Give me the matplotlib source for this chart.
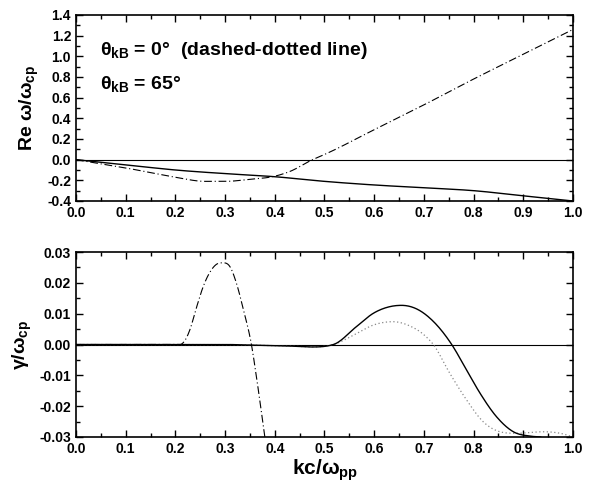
import numpy as np
import matplotlib
matplotlib.use("Agg")
import matplotlib.pyplot as plt
from matplotlib.ticker import MultipleLocator, FormatStrFormatter

plt.rcParams['font.family'] = ['Liberation Sans', 'DejaVu Sans']
plt.rcParams['font.weight'] = 'bold'
plt.rcParams['mathtext.fontset'] = 'custom'
plt.rcParams['mathtext.rm'] = 'Liberation Sans:bold'
plt.rcParams['mathtext.it'] = 'Liberation Sans:bold'
plt.rcParams['mathtext.bf'] = 'Liberation Sans:bold'
plt.rcParams['mathtext.sf'] = 'Liberation Sans:bold'

# ---- Top panel: Re omega / omega_cp ----
re65_k = [0.0, 0.1, 0.2, 0.3, 0.4, 0.5, 0.6, 0.7, 0.8, 0.9, 1.0]
re65_w = [0.0, -0.05, -0.10, -0.135, -0.165, -0.21, -0.245, -0.272, -0.30, -0.35, -0.40]

re0_k = [0.0, 0.05, 0.1, 0.15, 0.2, 0.26, 0.3, 0.35, 0.4, 0.43, 0.476, 0.5, 0.6, 0.7, 0.8, 0.9, 1.0]
re0_w = [0.0, -0.04, -0.08, -0.125, -0.17, -0.21, -0.21, -0.19, -0.16, -0.115, 0.0, 0.05, 0.29, 0.53, 0.78, 1.02, 1.26]

# ---- Bottom panel: gamma / omega_cp ----
g0_k = [0.0, 0.209, 0.22, 0.229, 0.243, 0.256, 0.270, 0.286, 0.296, 0.310, 0.323, 0.337, 0.353, 0.364, 0.380]
g0_g = [0.0, 0.0, 0.0015, 0.0047, 0.0123, 0.0188, 0.0236, 0.0263, 0.0265, 0.0252, 0.0198, 0.0112, 0.0, -0.0115, -0.030]

g65_k = [0.0, 0.3, 0.35, 0.43, 0.471, 0.518, 0.565, 0.598, 0.632, 0.655, 0.686, 0.719,
         0.756, 0.786, 0.813, 0.846, 0.880, 0.913, 0.935]
g65_g = [0.0, 0.0, -0.0002, -0.0005, -0.0008, 0.0, 0.0059, 0.0101, 0.0123, 0.0127, 0.0115, 0.0075,
         0.0, -0.0083, -0.0158, -0.0234, -0.0283, -0.0297, -0.0300]

g65d_k = [0.0, 0.3, 0.35, 0.43, 0.471, 0.518, 0.565, 0.598, 0.638, 0.672, 0.699, 0.719,
          0.752, 0.786, 0.819, 0.853, 0.886, 0.94, 0.98, 1.0]
g65d_g = [0.0, 0.0, -0.0002, -0.0005, -0.0008, 0.0, 0.0036, 0.0063, 0.0074, 0.006, 0.0033, 0.0,
          -0.0093, -0.018, -0.025, -0.0283, -0.0288, -0.0283, -0.029, -0.030]

xticks = [0.0, 0.1, 0.2, 0.3, 0.4, 0.5, 0.6, 0.7, 0.8, 0.9, 1.0]


def smooth(xs, ys, n=500):
    xs = np.asarray(xs, float)
    ys = np.asarray(ys, float)
    xn = np.linspace(xs[0], xs[-1], n)
    h = np.diff(xs)
    d = np.diff(ys) / h
    m = np.zeros_like(ys)
    m[0], m[-1] = d[0], d[-1]
    for i in range(1, len(xs) - 1):
        if d[i - 1] * d[i] <= 0:
            m[i] = 0.0
        else:
            m[i] = (h[i] * d[i - 1] + h[i - 1] * d[i]) / (h[i - 1] + h[i])
            lim = 3 * min(abs(d[i - 1]), abs(d[i]))
            m[i] = np.sign(m[i]) * min(abs(m[i]), lim)
    idx = np.clip(np.searchsorted(xs, xn) - 1, 0, len(xs) - 2)
    t = (xn - xs[idx]) / h[idx]
    h00 = 2 * t**3 - 3 * t**2 + 1
    h10 = t**3 - 2 * t**2 + t
    h01 = -2 * t**3 + 3 * t**2
    h11 = t**3 - t**2
    yn = h00 * ys[idx] + h10 * h[idx] * m[idx] + h01 * ys[idx + 1] + h11 * h[idx] * m[idx + 1]
    return xn, yn


fig = plt.figure(figsize=(5.95, 4.93), dpi=100)
ax1 = fig.add_axes([0.1277, 0.5923, 0.8353, 0.3773])
ax2 = fig.add_axes([0.1277, 0.1136, 0.8353, 0.3752])

dashdot = (0, (7, 2.5, 1, 2.5))

ax1.axhline(0, color='black', lw=0.8)
x, y = smooth(re65_k, re65_w)
ax1.plot(x, y, color='black', lw=1.0)
x, y = smooth(re0_k, re0_w)
ax1.plot(x, y, color='black', lw=0.8, linestyle=dashdot)
ax1.set_xlim(0, 1)
ax1.set_ylim(-0.4, 1.4)
ax1.yaxis.set_major_locator(MultipleLocator(0.2))
ax1.yaxis.set_minor_locator(MultipleLocator(0.1))
ax1.yaxis.set_major_formatter(FormatStrFormatter('%.1f'))
ax1.set_ylabel(r'Re $\omega/\omega_{\rm cp}$', fontsize=14, fontweight='bold')
ax1.text(0.048, 0.81, r'$\theta_{\rm kB}$ = 0$\degree$  (dashed-dotted line)', transform=ax1.transAxes,
         fontsize=14, fontweight='bold', va='center', ha='left')
ax1.text(0.048, 0.63, r'$\theta_{\rm kB}$ = 65$\degree$', transform=ax1.transAxes,
         fontsize=14, fontweight='bold', va='center', ha='left')

ax2.axhline(0, color='black', lw=0.8)
x, y = smooth(g0_k, g0_g)
ax2.plot(x, y, color='black', lw=0.8, linestyle=dashdot)
x, y = smooth(g65d_k, g65d_g)
ax2.plot(x, y, color='#888888', lw=0.9, linestyle=(0, (1, 2)))
x, y = smooth(g65_k, g65_g)
ax2.plot(x, y, color='black', lw=1.0)
ax2.set_xlim(0, 1)
ax2.set_ylim(-0.03, 0.03)
ax2.yaxis.set_major_locator(MultipleLocator(0.01))
ax2.yaxis.set_minor_locator(MultipleLocator(0.005))
ax2.yaxis.set_major_formatter(FormatStrFormatter('%.2f'))
ax2.set_ylabel(r'$\gamma/\omega_{\rm cp}$', fontsize=14, fontweight='bold')
ax2.set_xlabel(r'kc/$\omega_{\rm pp}$', fontsize=15, fontweight='bold', labelpad=1)

for ax in (ax1, ax2):
    ax.set_xticks(xticks)
    ax.xaxis.set_major_formatter(FormatStrFormatter('%.1f'))
    ax.xaxis.set_minor_locator(MultipleLocator(0.05))
    ax.tick_params(which='both', direction='in', top=True, right=True,
                   labelsize=10, width=1.0)
    ax.tick_params(which='major', length=5)
    ax.tick_params(which='minor', length=3)
    for lab in ax.get_xticklabels() + ax.get_yticklabels():
        lab.set_fontweight('bold')
    for s in ax.spines.values():
        s.set_linewidth(1.2)

ax1.yaxis.set_label_coords(-0.07, 0.5)
ax2.yaxis.set_label_coords(-0.085, 0.5)

fig.savefig('out.png', dpi=100)
